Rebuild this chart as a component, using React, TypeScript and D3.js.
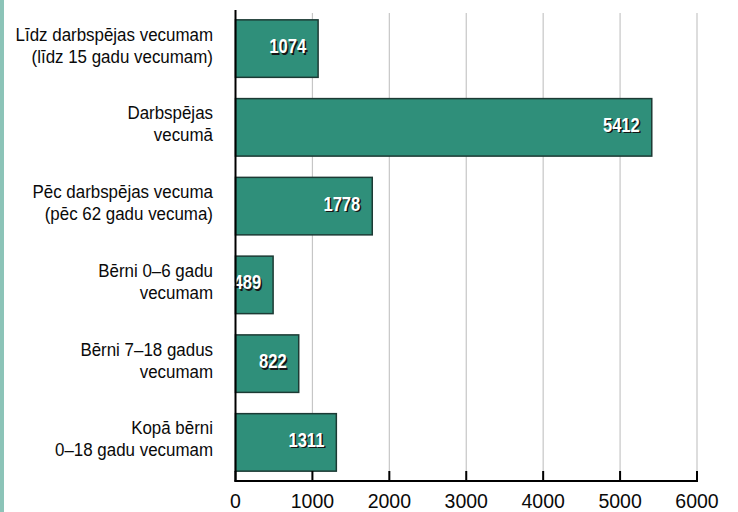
import React from "react";
import * as d3 from "d3";

const categories: string[][] = [
  ["Līdz darbspējas vecumam", "(līdz 15 gadu vecumam)"],
  ["Darbspējas", "vecumā"],
  ["Pēc darbspējas vecuma", "(pēc 62 gadu vecuma)"],
  ["Bērni 0–6 gadu", "vecumam"],
  ["Bērni 7–18 gadus", "vecumam"],
  ["Kopā bērni", "0–18 gadu vecumam"],
];
const values: number[] = [1074, 5412, 1778, 489, 822, 1311];
const xTicks: number[] = [0, 1000, 2000, 3000, 4000, 5000, 6000];

const W = 738;
const H = 512;
const x0 = 235.5;
const x1 = 697;
const yTop = 10;
const yBot = 481;

const BAR_FILL = "#2f8f7a";
const BAR_STROKE = "#1c3a34";
const STRIP = "#8cc4b8";
const FONT = "'Liberation Sans', Arial, sans-serif";

export default function App() {
  const x = d3.scaleLinear().domain([0, 6000]).range([x0, x1]);
  const idx = categories.map((_, i) => String(i));
  const y = d3
    .scaleBand<string>()
    .domain(idx)
    .range([yTop, yBot])
    .paddingInner(0.27)
    .paddingOuter(0.125);
  const lineGap = 22;

  return (
    <svg
      width={W}
      height={H}
      style={{ position: "absolute", left: 0, top: 0, background: "#fff" }}
    >
      <rect x={0} y={0} width={4} height={H} fill={STRIP} />
      {xTicks
        .filter((t) => t > 0)
        .map((t) => (
          <line
            key={"g" + t}
            x1={x(t)}
            x2={x(t)}
            y1={13}
            y2={yBot}
            stroke="#c6c6c6"
            strokeWidth={1.2}
          />
        ))}
      {values.map((v, i) => {
        const by = y(String(i))!;
        const bh = y.bandwidth();
        const cy = by + bh / 2;
        const lx = x(v) - 12;
        return (
          <g key={"b" + i}>
            <rect
              x={x(0)}
              y={by}
              width={x(v) - x(0)}
              height={bh}
              fill={BAR_FILL}
              stroke={BAR_STROKE}
              strokeWidth={1.5}
            />
            <text
              transform={`translate(${lx + 1.5},${cy + 4.5 + 1.5}) scale(0.85,1)`}
              textAnchor="end"
              fontFamily={FONT}
              fontWeight="bold"
              fontSize={19.5}
              fill="#151515"
            >
              {v}
            </text>
            <text
              transform={`translate(${lx},${cy + 4.5}) scale(0.85,1)`}
              textAnchor="end"
              fontFamily={FONT}
              fontWeight="bold"
              fontSize={19.5}
              fill="#ffffff"
            >
              {v}
            </text>
            {categories[i].map((line, j) => (
              <text
                key={j}
                transform={`translate(213,${cy - 8 + j * lineGap}) scale(0.915,1)`}
                textAnchor="end"
                fontFamily={FONT}
                fontSize={18.5}
                fill="#0a0a0a"
              >
                {line}
              </text>
            ))}
          </g>
        );
      })}
      {xTicks.map((t) => (
        <g key={"t" + t}>
          <line
            x1={x(t)}
            x2={x(t)}
            y1={yBot - 10}
            y2={yBot}
            stroke="#000"
            strokeWidth={2}
          />
          <text
            x={x(t)}
            y={508}
            textAnchor="middle"
            fontFamily={FONT}
            fontSize={19.5}
            fill="#0a0a0a"
          >
            {t}
          </text>
        </g>
      ))}
      <line x1={x0} x2={x0} y1={yTop} y2={yBot + 1} stroke="#000" strokeWidth={2} />
      <line x1={x0 - 1} x2={x1 + 1} y1={yBot} y2={yBot} stroke="#000" strokeWidth={2} />
    </svg>
  );
}
